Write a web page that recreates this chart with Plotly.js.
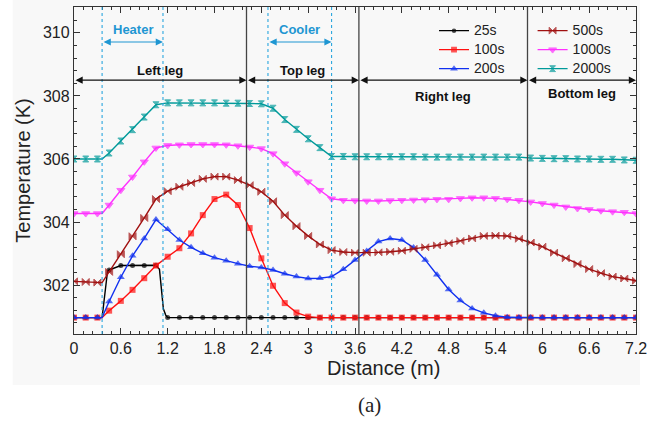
<!DOCTYPE html>
<html><head><meta charset="utf-8">
<script src="https://cdn.plot.ly/plotly-3.0.1.min.js"></script>
<style>html,body{margin:0;padding:0;background:#fff}#chart{width:662px;height:421px}</style>
</head><body><div id="chart"></div>
<script>
// ---- data ----
const distanceGrid = [0,0.15,0.3,0.45,0.6,0.75,0.9,1.05,1.2,1.35,1.5,1.65,1.8,1.95,2.1,2.25,2.4,2.55,2.7,2.85,3.0,3.15,3.3,3.45,3.6,3.75,3.9,4.05,4.2,4.35,4.5,4.65,4.8,4.95,5.1,5.25,5.4,5.55,5.7,5.85,6.0,6.15,6.3,6.45,6.6,6.75,6.9,7.05,7.2];

const temp25s = [300.97,300.97,300.97,302.48,302.62,302.62,302.62,302.63,300.97,300.97,300.97,300.97,300.97,300.97,300.97,300.97,300.97,300.97,300.97,300.97,300.97,300.97,300.97,300.97,300.97,300.97,300.97,300.97,300.97,300.97,300.97,300.97,300.97,300.97,300.97,300.97,300.97,300.97,300.97,300.97,300.97,300.97,300.97,300.97,300.97,300.97,300.97,300.97,300.97];
const temp100s = [300.97,300.97,300.97,301.19,301.5,301.85,302.22,302.62,302.9,303.17,303.64,304.22,304.73,304.87,304.54,303.81,302.85,301.98,301.43,301.13,301.0,300.97,300.97,300.97,300.97,300.97,300.97,300.97,300.97,300.97,300.97,300.97,300.97,300.97,300.97,300.97,300.97,300.97,300.97,300.97,300.97,300.97,300.97,300.97,300.97,300.97,300.97,300.97,300.97];
const temp200s = [300.97,300.97,300.97,301.48,302.25,302.93,303.48,304.08,303.77,303.43,303.2,303.01,302.87,302.77,302.68,302.6,302.56,302.48,302.36,302.27,302.21,302.22,302.27,302.5,302.8,303.08,303.38,303.48,303.43,303.19,302.8,302.33,301.86,301.51,301.26,301.12,301.03,300.98,300.97,300.97,300.97,300.97,300.97,300.97,300.97,300.97,300.97,300.97,300.97];
const temp500s = [302.12,302.1,302.08,302.42,302.98,303.55,304.13,304.73,304.98,305.12,305.24,305.37,305.44,305.44,305.33,305.17,304.96,304.66,304.22,303.87,303.56,303.29,303.11,303.05,303.03,303.03,303.04,303.06,303.09,303.15,303.2,303.26,303.33,303.4,303.48,303.56,303.57,303.56,303.47,303.35,303.22,303.03,302.85,302.67,302.51,302.38,302.27,302.21,302.14];
const temp1000s = [304.27,304.27,304.27,304.54,305.01,305.43,305.91,306.35,306.43,306.45,306.46,306.46,306.46,306.45,306.42,306.38,306.33,306.17,305.85,305.56,305.28,305.01,304.74,304.69,304.68,304.67,304.67,304.68,304.69,304.7,304.71,304.72,304.72,304.75,304.77,304.77,304.75,304.72,304.69,304.64,304.59,304.54,304.48,304.43,304.4,304.36,304.33,304.31,304.27];
const temp2000s = [306.0,306.0,306.0,306.19,306.57,306.93,307.33,307.72,307.78,307.78,307.78,307.78,307.78,307.77,307.77,307.76,307.75,307.61,307.25,306.94,306.64,306.36,306.08,306.08,306.07,306.07,306.07,306.07,306.07,306.07,306.06,306.06,306.06,306.06,306.06,306.06,306.06,306.06,306.06,306.03,306.02,306.01,306.01,306.0,306.0,305.99,305.99,305.97,305.96];

// extra line-only points (between markers) where curves bend sharply
const bend25sX = [0.36,0.43,1.095,1.115,1.145,1.175];
const bend25sY = [300.97,302.45,302.5,301.9,301.25,301.05];
const bend100sX = [0.36];  const bend100sY = [300.97];
const bend200sX = [0.36];  const bend200sY = [300.97];
const bend500sX = [0.36];  const bend500sY = [302.08];
const bend1000sX = [0.36]; const bend1000sY = [304.27];
const bend2000sX = [0.36]; const bend2000sY = [306.0];

const seriesNames = ['25s','100s','200s','500s','1000s','2000s'];
const xTickVals = [0,0.6,1.2,1.8,2.4,3,3.6,4.2,4.8,5.4,6,6.6,7.2];
const xTickText = ['0','0.6','1.2','1.8','2.4','3','3.6','4.2','4.8','5.4','6','6.6','7.2'];
const yTickVals = [302,304,306,308,310];
const yTickText = ['302','304','306','308','310'];
const legBounds = [0,2.21,3.65,5.81,7.2];
const legNames = ['Left leg','Top leg','Right leg','Bottom leg'];
const heaterBounds = [0.36,1.14];
const coolerBounds = [2.485,3.30];

// ---- styling ----
const FONT = 'Liberation Sans, Arial, sans-serif';
const colors = ['#000000','#ff1010','#1030f0','#a01010','#ff30ff','#009a9a'];
const symbols = ['circle','square','triangle-up','bowtie','triangle-down','hourglass'];
const msizes = [5,6,7,7,7,6];
const temps = [temp25s,temp100s,temp200s,temp500s,temp1000s,temp2000s];
const bendX = [bend25sX,bend100sX,bend200sX,bend500sX,bend1000sX,bend2000sX];
const bendY = [bend25sY,bend100sY,bend200sY,bend500sY,bend1000sY,bend2000sY];

const traces = seriesNames.map((name,k)=>{
  const pts = distanceGrid.map((x,i)=>({x:x,y:temps[k][i],m:true}))
    .concat(bendX[k].map((x,i)=>({x:x,y:bendY[k][i],m:false})));
  pts.sort((a,b)=>a.x-b.x);
  return {
    type:'scatter', mode:'lines+markers',
    name:'<span style="font-size:14px">'+name+'</span>',
    x:pts.map(p=>p.x), y:pts.map(p=>p.y),
    line:{color:colors[k],width:1.4},
    marker:{color:colors[k],symbol:symbols[k],size:pts.map(p=>p.m?msizes[k]:0),
            line:{color:colors[k],width:k>=3?1:0}},
    legend: k<3 ? 'legend' : 'legend2'
  };
});

const blue = '#1e96d2';
const shapes = [];
shapes.push({type:'rect',xref:'paper',yref:'paper',x0:-0.109,x1:1.007,y0:-0.156,y1:1.03,
  fillcolor:'#f8f8f8',line:{width:0},layer:'below'});
legBounds.slice(1,4).forEach(x=>shapes.push({type:'line',xref:'x',yref:'paper',x0:x,x1:x,y0:0,y1:1,
  line:{color:'#444',width:1.3}}));
heaterBounds.concat(coolerBounds).forEach(x=>shapes.push({type:'line',xref:'x',yref:'paper',x0:x,x1:x,y0:0,y1:1,
  line:{color:'#2aa6df',width:1.1,dash:'dot'}}));

const annotations = [];
function dblArrow(x0,x1,y,color){
  annotations.push({x:x1,y:y,ax:x0,ay:y,xref:'x',yref:'y',axref:'x',ayref:'y',text:'',
    showarrow:true,arrowside:'end+start',arrowhead:2,startarrowhead:2,arrowsize:1.2,startarrowsize:1.2,
    arrowwidth:1.2,arrowcolor:color,standoff:0,startstandoff:0});
}
dblArrow(heaterBounds[0],heaterBounds[1],309.71,blue);
dblArrow(coolerBounds[0],coolerBounds[1],309.71,blue);
annotations.push({x:(heaterBounds[0]+heaterBounds[1])/2,y:310.1,xref:'x',yref:'y',text:'Heater',showarrow:false,
  font:{family:FONT,size:13,color:blue,weight:'bold'}});
annotations.push({x:(coolerBounds[0]+coolerBounds[1])/2,y:310.1,xref:'x',yref:'y',text:'Cooler',showarrow:false,
  font:{family:FONT,size:13,color:blue,weight:'bold'}});
const legLabelY = [308.8,308.8,307.98,308.08];
for(let i=0;i<4;i++){
  dblArrow(legBounds[i],legBounds[i+1],308.5,'#111');
  annotations.push({x:(legBounds[i]+legBounds[i+1])/2,y:legLabelY[i],xref:'x',yref:'y',text:legNames[i],showarrow:false,
    font:{family:FONT,size:13,color:'#111',weight:'bold'}});
}
// x-axis title (placed right of centre as in the reference)
annotations.push({x:0.55,y:-0.104,xref:'paper',yref:'paper',text:'Distance (m)',showarrow:false,yanchor:'middle',
  font:{family:FONT,size:20,color:'#222'}});
annotations.push({x:0.526,y:-0.218,xref:'paper',yref:'paper',text:'(a)',showarrow:false,yanchor:'middle',
  font:{family:'Liberation Serif, Times New Roman, serif',size:21,color:'#222'}});

const axisCommon = {showgrid:false,zeroline:false,showline:true,linecolor:'#333',linewidth:1.2,
  mirror:'ticks',ticks:'inside',ticklen:6,tickwidth:1,tickcolor:'#333',
  tickfont:{family:FONT,size:16,color:'#222'}};

const legendCommon = {xanchor:'left',yanchor:'top',bgcolor:'rgba(0,0,0,0)',borderwidth:0,
  font:{family:FONT,size:11.5,color:'#222'},tracegroupgap:0};

const layout = {
  width:662,height:421,
  margin:{l:74,r:26,t:7,b:87},
  paper_bgcolor:'#ffffff',plot_bgcolor:'#f8f8f8',
  font:{family:FONT,color:'#222'},
  xaxis:Object.assign({},axisCommon,{range:[0,7.2],tickmode:'array',tickvals:xTickVals,ticktext:xTickText,
    minor:{dtick:0.12,tick0:0,ticks:'inside',ticklen:3,tickcolor:'#333'}}),
  yaxis:Object.assign({},axisCommon,{range:[300.45,310.82],tickmode:'array',tickvals:yTickVals,ticktext:yTickText,
    minor:{dtick:0.4,tick0:302,ticks:'inside',ticklen:3,tickcolor:'#333'},
    title:{text:'Temperature (K)',font:{family:FONT,size:20,color:'#222'},standoff:6}}),
  showlegend:true,
  legend:Object.assign({},legendCommon,{x:0.6406,y:0.972}),
  legend2:Object.assign({},legendCommon,{x:0.816,y:0.972}),
  shapes:shapes,annotations:annotations
};

Plotly.newPlot('chart',traces,layout,{displayModeBar:false,staticPlot:true});
</script></body></html>
